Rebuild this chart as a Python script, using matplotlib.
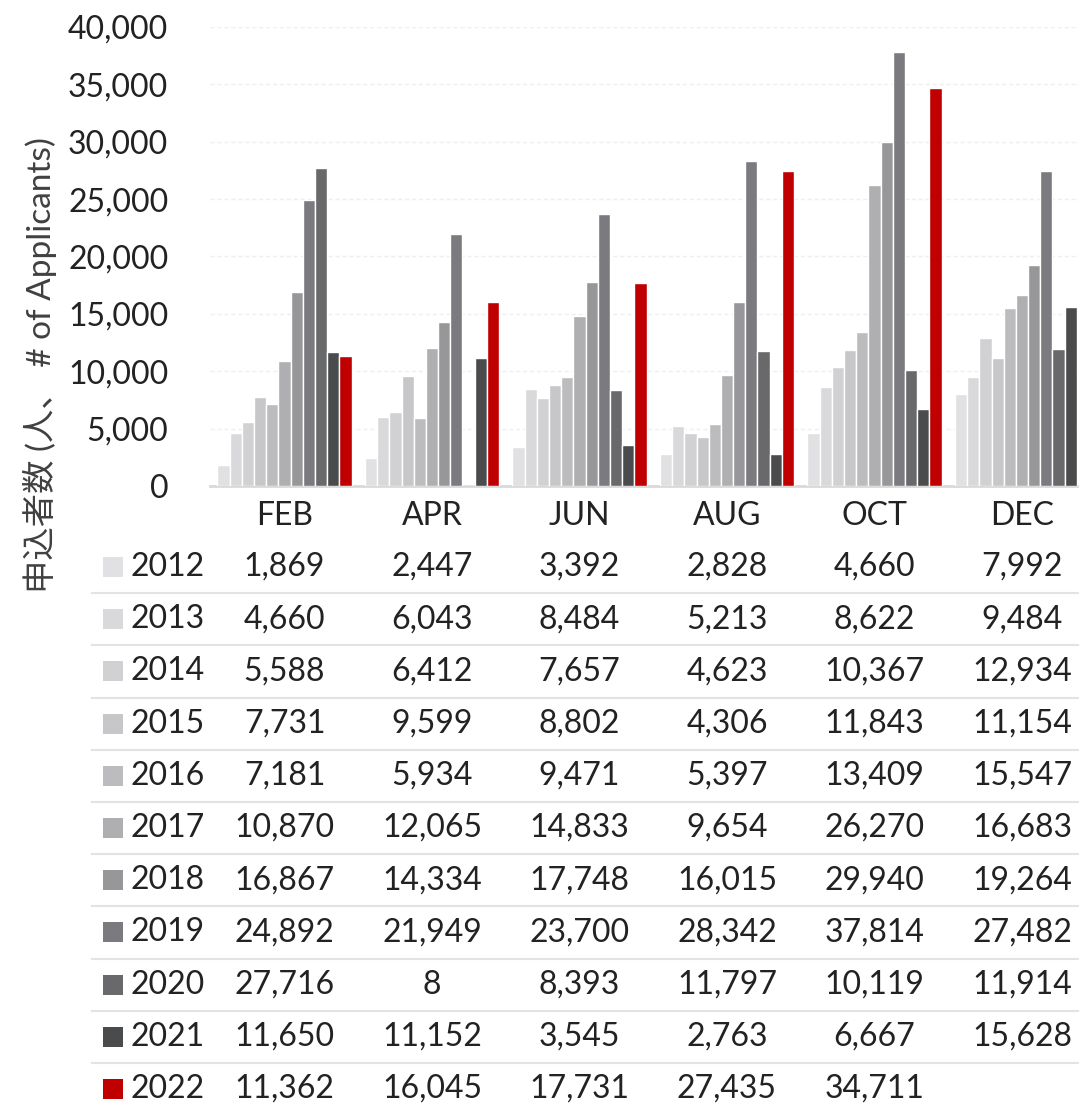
import matplotlib
matplotlib.use("Agg")
import matplotlib.pyplot as plt
from matplotlib.patches import Rectangle
from matplotlib.lines import Line2D
from matplotlib.ticker import FuncFormatter
import numpy as np

plt.rcParams['font.family'] = ['Lato', 'Noto Sans CJK JP', 'DejaVu Sans']

months = ["FEB", "APR", "JUN", "AUG", "OCT", "DEC"]
years = ["2012", "2013", "2014", "2015", "2016", "2017", "2018", "2019", "2020", "2021", "2022"]

# applicants per year, one value per month (None = no data)
v2012 = [1869, 2447, 3392, 2828, 4660, 7992]
v2013 = [4660, 6043, 8484, 5213, 8622, 9484]
v2014 = [5588, 6412, 7657, 4623, 10367, 12934]
v2015 = [7731, 9599, 8802, 4306, 11843, 11154]
v2016 = [7181, 5934, 9471, 5397, 13409, 15547]
v2017 = [10870, 12065, 14833, 9654, 26270, 16683]
v2018 = [16867, 14334, 17748, 16015, 29940, 19264]
v2019 = [24892, 21949, 23700, 28342, 37814, 27482]
v2020 = [27716, 8, 8393, 11797, 10119, 11914]
v2021 = [11650, 11152, 3545, 2763, 6667, 15628]
v2022 = [11362, 16045, 17731, 27435, 34711, None]
values = [v2012, v2013, v2014, v2015, v2016, v2017, v2018, v2019, v2020, v2021, v2022]

colors = ["#e1e1e3", "#d9d9db", "#d1d1d3", "#c7c7c9", "#bcbcbf", "#afafb2",
          "#97979a", "#7b7b7f", "#69696b", "#4a4b4d", "#c00000"]

W, H = 1079, 1107
fig = plt.figure(figsize=(W / 100, H / 100), dpi=100)
FS = 23
TXT = "#222222"

def fx(px):
    return px / W

def fy(py):
    return 1 - py / H

ax_left, ax_right, ax_top, ax_bottom = 210, 1079, 27, 486
ax = fig.add_axes([fx(ax_left), fy(ax_bottom), fx(ax_right - ax_left), (ax_bottom - ax_top) / H])

x = np.arange(len(months))
bw = 0.0827
n = len(years)
for j, (yr, vals) in enumerate(zip(years, values)):
    xs = [xi + (j - (n - 1) / 2) * bw for xi, v in zip(x, vals) if v is not None]
    hs = [v for v in vals if v is not None]
    ax.bar(xs, hs, width=bw, color=colors[j], edgecolor="white", linewidth=1, zorder=3)

ax.set_ylim(0, 40000)
ax.set_yticks(np.arange(0, 40001, 5000))
ax.yaxis.set_major_formatter(FuncFormatter(lambda v, p: f"{int(v):,}"))
ax.set_xlim((ax_left - 284.5) / 147.5, (ax_right - 284.5) / 147.5)
ax.set_xticks(x)
ax.set_xticklabels(months)
ax.tick_params(axis="both", length=0, labelsize=FS, labelcolor=TXT)
ax.tick_params(axis="y", pad=30)
ax.tick_params(axis="x", pad=11)
ax.grid(axis="y", color="#efefef", linestyle=(0, (3, 2)), linewidth=1, zorder=0)
for s in ["top", "right", "left"]:
    ax.spines[s].set_visible(False)
ax.spines["bottom"].set_color("#d9d9d9")
ax.spines["bottom"].set_linewidth(2)

fig.text(fx(40), fy(365), "申込者数 (人、 # of Applicants)", rotation=90,
         ha="center", va="center", fontsize=24, color="#404040")

# data table below the chart
row0, pitch = 567, 52.2
trans = matplotlib.transforms.blended_transform_factory(ax.transData, fig.transFigure)
for j, (yr, vals) in enumerate(zip(years, values)):
    yc = row0 + j * pitch
    fig.patches.append(Rectangle((fx(103), fy(yc + 10)), fx(20), 20 / H,
                                 transform=fig.transFigure, facecolor=colors[j], edgecolor="none"))
    fig.text(fx(131), fy(yc), yr, ha="left", va="center", fontsize=FS, color=TXT)
    for xi, v in zip(x, vals):
        if v is None:
            continue
        ax.text(xi, fy(yc), f"{v:,}", transform=trans, ha="center", va="center",
                fontsize=FS, color=TXT, clip_on=False)
    if j < n - 1:
        ly = fy(yc + pitch / 2)
        fig.add_artist(Line2D([fx(92), 1], [ly, ly], transform=fig.transFigure,
                              color="#e3e3e3", linewidth=1.5))

fig.savefig("out.png", dpi=100)
